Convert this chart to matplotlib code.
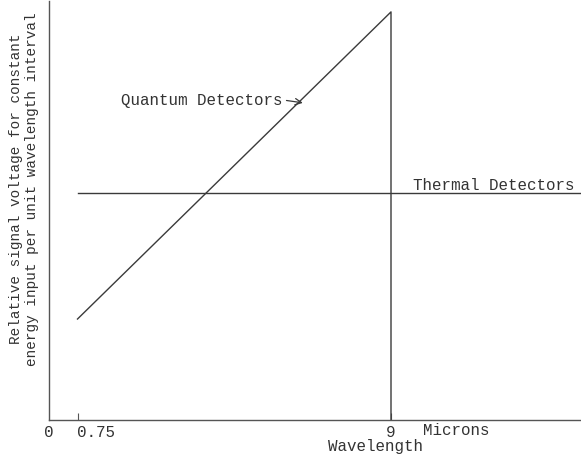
import matplotlib
matplotlib.use("Agg")
import matplotlib.pyplot as plt

# Data (wavelength in microns, relative signal voltage arbitrary units)
quantum_wavelength = [0.75, 9.0, 9.0]
quantum_signal = [0.241, 0.974, 0.0]
thermal_wavelength = [0.75, 14.0]
thermal_signal = [0.542, 0.542]
xtick_values = [0, 0.75, 9]
xtick_labels = ["0", "0.75", "9"]

FONT = "Liberation Mono"
COL = "#3a3a3a"

fig = plt.figure(figsize=(5.81, 4.56), dpi=100)
ax = fig.add_axes([49 / 581, (456 - 421) / 456, (581 - 49) / 581, 419 / 456])
ax.set_xlim(0, 14.0)
ax.set_ylim(0, 1.0)

ax.plot(quantum_wavelength, quantum_signal, color=COL, lw=1.0)
ax.plot(thermal_wavelength, thermal_signal, color=COL, lw=1.0)

for s in ["top", "right"]:
    ax.spines[s].set_visible(False)
for s in ["left", "bottom"]:
    ax.spines[s].set_color("#555555")
    ax.spines[s].set_linewidth(1.0)

ax.set_yticks([])
ax.set_xticks(xtick_values)
ax.set_xticklabels(xtick_labels, fontfamily=FONT, fontsize=11.4, color="#333333")
ax.tick_params(axis="x", direction="in", length=5, width=0.8, color="#555555", pad=3)
lbls = ax.get_xticklabels()
lbls[1].set_horizontalalignment("left")
ax.get_xticklines()[0].set_visible(False)

ax.text(9.84, -0.022, "Microns", fontfamily=FONT, fontsize=11.4, color="#333333",
        ha="left", va="center", transform=ax.transData, clip_on=False)
ax.text(8.58, -0.062, "Wavelength", fontfamily=FONT, fontsize=11.4, color="#333333",
        ha="center", va="center", transform=ax.transData, clip_on=False)

ax.annotate("Quantum Detectors", xy=(6.68, 0.757), xytext=(1.89, 0.764),
            fontfamily=FONT, fontsize=11.4, color="#333333", ha="left", va="center",
            arrowprops=dict(arrowstyle="->", color=COL, lw=0.9, relpos=(1.0, 0.5),
                            shrinkA=1, shrinkB=0))
ax.text(9.58, 0.563, "Thermal Detectors", fontfamily=FONT, fontsize=11.4,
        color="#333333", ha="left", va="center")

fig.text(24 / 581, 1 - 189 / 456,
         "Relative signal voltage for constant\nenergy input per unit wavelength interval",
         rotation=90, fontfamily=FONT, fontsize=10.4, color="#333333",
         ha="center", va="center", multialignment="center", linespacing=1.25)

fig.savefig("out.png", dpi=100)
